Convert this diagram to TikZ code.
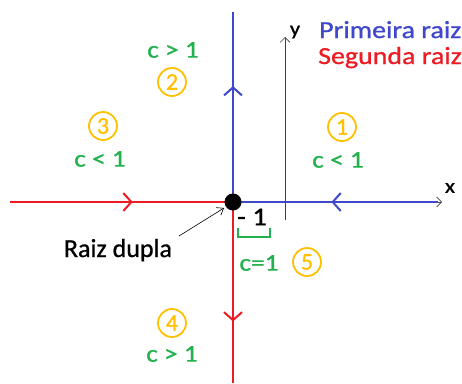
\documentclass[tikz,border=0pt]{standalone}
\usepackage{fontspec}
\setmainfont{Carlito}[RawFeature={embolden=0.8}]
\usetikzlibrary{arrows.meta,decorations.markings}
\definecolor{pblue}{RGB}{63,72,204}
\definecolor{pred}{RGB}{237,28,36}
\definecolor{pgreen}{RGB}{34,177,76}
\definecolor{pgold}{RGB}{255,192,0}
\newcommand{\wide}[1]{\scalebox{1.14}[1]{#1}}
\tikzset{
  root/.style={line width=2pt},
  midarr/.style={postaction={decorate},decoration={markings,
     mark=at position #1 with {\arrow[line width=2pt]{Straight Barb[length=8pt,width=18pt]}}}},
  axisline/.style={line width=0.8pt, draw=black!75, -{Straight Barb[length=5pt,width=10pt,line width=0.6pt]}},
  gtext/.style={text=pgreen, font=\fontsize{24}{28}\selectfont, inner sep=0pt},
  ktext/.style={text=black, font=\fontsize{20}{24}\selectfont, inner sep=0pt},
  legtext/.style={font=\fontsize{24.5}{28}\selectfont, inner sep=0pt, anchor=base west},
  num/.style={circle, draw=pgold, line width=1.8pt, text=pgold, minimum size=28pt, inner sep=0pt, font=\fontsize{24}{28}\selectfont},
}
\begin{document}
\begin{tikzpicture}[x=1pt,y=-1pt]
\useasboundingbox[fill=white] (0,0) rectangle (462,383);
% coordinates
\coordinate (O) at (233,202);
\coordinate (T) at (233,12);
\coordinate (R) at (438,202);
\coordinate (Rx) at (442,202);
\coordinate (L) at (10,202);
\coordinate (B) at (233,383);
\coordinate (y0) at (285,220);
\coordinate (y1) at (285,37);
% axes
\draw[axisline] (O) -- (Rx);
\draw[axisline] (y0) -- (y1);
\node[ktext] (xl) at (450,188) {\wide{x}};
\node[ktext] (yl) at (295,32) {\wide{y}};
% roots
\draw[root, pblue, midarr=0.61] (O) -- (T);
\draw[root, pblue, midarr=0.52] (R) -- (O);
\draw[root, pred, midarr=0.55] (L) -- (O);
\draw[root, pred, midarr=0.66] (O) -- (B);
\node[circle, fill=black, minimum size=17pt, inner sep=0pt] (dot) at (O) {};
% legend
\node[legtext, text=pblue] (leg1) at (319,38) {\wide{Primeira raiz}};
\node[legtext, text=pred] (leg2) at (318,64) {\wide{Segunda raiz}};
% regions
\node[gtext] (c2) at (173,50) {\wide{c > 1}};
\node[num] (n2) at (172,82) {2};
\node[num] (n3) at (103,126) {3};
\node[gtext] (c3) at (100,159) {\wide{c < 1}};
\node[num] (n1) at (342,127) {1};
\node[gtext] (c1) at (338,160) {\wide{c < 1}};
\node[num] (n4) at (172,323) {4};
\node[gtext] (c4) at (172,354) {\wide{c > 1}};
% double root
\node[ktext, font=\fontsize{26}{30}\selectfont] (m1) at (252,217) {\scalebox{1.1}[1]{- 1}};
\coordinate (b1) at (238,228);
\coordinate (b2) at (270,228);
\draw[pgreen, line width=1.8pt] (b1) -- ++(0,9) -| (b2);
\node[gtext] (c5) at (259,263) {\wide{c=1}};
\node[num] (n5) at (307,262) {5};
\node[ktext, font=\fontsize{26}{30}\selectfont, anchor=base] (rd) at (118,257) {Raiz dupla};
\draw[line width=0.6pt, -{Straight Barb[length=6pt,width=9pt]}] (179,236) -- (224,208);
\end{tikzpicture}
\end{document}
